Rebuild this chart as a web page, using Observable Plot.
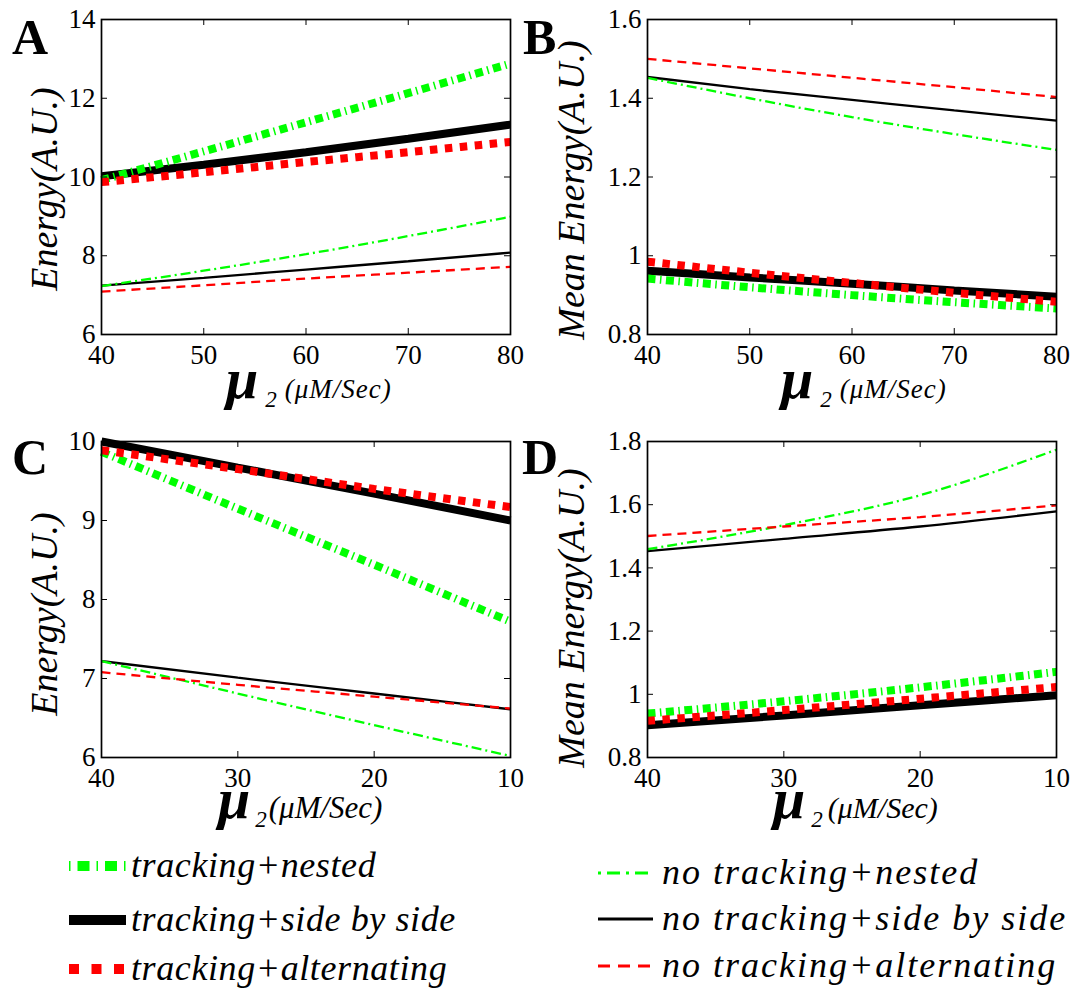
<!DOCTYPE html>
<html><head><meta charset="utf-8">
<script src="https://cdn.jsdelivr.net/npm/d3@7"></script>
<script src="https://cdn.jsdelivr.net/npm/@observablehq/plot@0.6"></script>
<style>
html,body{margin:0;padding:0;background:#fff;}
#root{position:relative;width:1086px;height:988px;overflow:hidden;font-family:'Liberation Serif';}
#root > svg.panel{position:absolute;}
#root svg text{font-family:'Liberation Serif' !important;}
#overlay{position:absolute;left:0;top:0;}
</style></head>
<body><div id="root"></div>
<script>
// ---------- data ----------
const seriesNames = ["tracking+nested","tracking+side by side","tracking+alternating",
                     "no tracking+nested","no tracking+side by side","no tracking+alternating"];
const muAB = [40,50,60,70,80];
const muCD = [40,30,20,10];
const xTicksAB = [40,50,60,70,80];
const xTicksCD = [40,30,20,10];
const yTicksA = [6,8,10,12,14];
const yTicksB = [0.8,1,1.2,1.4,1.6];
const yTicksC = [6,7,8,9,10];
const yTicksD = [0.8,1,1.2,1.4,1.6,1.8];
// Panel A: Energy vs mu2 (40..80)
const energyA_trkNested = [9.92,10.65,11.39,12.13,12.88];
const energyA_trkSide   = [10.02,10.31,10.63,10.97,11.33];
const energyA_trkAlt    = [9.87,10.12,10.38,10.63,10.89];
const energyA_noNested  = [7.23,7.62,8.04,8.50,8.99];
const energyA_noSide    = [7.24,7.44,7.65,7.86,8.08];
const energyA_noAlt     = [7.09,7.25,7.42,7.57,7.72];
// Panel B: Mean energy vs mu2 (40..80)
const meanB_trkNested = [0.942,0.920,0.900,0.882,0.866];
const meanB_trkSide   = [0.962,0.945,0.929,0.912,0.896];
const meanB_trkAlt    = [0.985,0.957,0.931,0.906,0.883];
const meanB_noNested  = [1.452,1.400,1.352,1.309,1.269];
const meanB_noSide    = [1.454,1.423,1.396,1.369,1.343];
const meanB_noAlt     = [1.500,1.476,1.452,1.428,1.403];
// Panel C: Energy vs mu2 (40..10)
const energyC_trkNested = [9.87,9.15,8.44,7.72];
const energyC_trkSide   = [10.0,9.67,9.34,9.0];
const energyC_trkAlt    = [9.89,9.65,9.40,9.17];
const energyC_noNested  = [7.22,6.81,6.41,6.02];
const energyC_noSide    = [7.22,7.01,6.81,6.61];
const energyC_noAlt     = [7.08,6.92,6.77,6.62];
// Panel D: Mean energy vs mu2 (40..10)
const meanD_trkNested = [0.939,0.978,1.022,1.071];
const meanD_trkSide   = [0.902,0.933,0.965,0.997];
const meanD_trkAlt    = [0.916,0.950,0.986,1.023];
const meanD_noNested  = [1.459,1.535,1.630,1.774];
const meanD_noSide    = [1.453,1.492,1.531,1.579];
const meanD_noAlt     = [1.501,1.531,1.561,1.598];

// ---------- styles ----------
const GREEN = "#00ff00", RED = "#ff0000", BLACK = "#000000";
const SERIF = "Liberation Serif";
const seriesStroke = [GREEN, BLACK, RED, GREEN, BLACK, RED];
const seriesWidth  = [8, 8, 8, 2.3, 2.3, 2.3];
const seriesDash   = ["8 4.5 1.5 4.5", null, "7.5 7.5", "10 4 2 4", null, "9 6"];
const drawOrder = [1, 0, 2, 4, 3, 5];

function rows(mu, arrays) {
  return seriesNames.flatMap((s, i) => mu.map((m, j) => ({series: s, mu: m, value: arrays[i][j]})));
}

function panel({data, xDomain, yDomain, xTicks, yTicks, left, top, width, height, mL, mR, mT, mB}) {
  const innerW = width - mL - mR, innerH = height - mT - mB;
  const marks = [];
  for (const i of drawOrder) {
    marks.push(Plot.line(data.filter(d => d.series === seriesNames[i]), {
      x: "mu", y: "value", stroke: seriesStroke[i], strokeWidth: seriesWidth[i],
      strokeDasharray: seriesDash[i] ?? undefined, strokeLinecap: "butt", strokeLinejoin: "miter",
      curve: "monotone-x"
    }));
  }
  marks.push(Plot.tickX(xTicks, {x: d => d, insetTop: innerH - 6, stroke: BLACK, strokeWidth: 1}));
  marks.push(Plot.tickX(xTicks, {x: d => d, insetBottom: innerH - 6, stroke: BLACK, strokeWidth: 1}));
  marks.push(Plot.tickY(yTicks, {y: d => d, insetRight: innerW - 6, stroke: BLACK, strokeWidth: 1}));
  marks.push(Plot.tickY(yTicks, {y: d => d, insetLeft: innerW - 6, stroke: BLACK, strokeWidth: 1}));
  marks.push(Plot.frame({stroke: BLACK, strokeWidth: 1.7}));
  marks.push(Plot.axisX({ticks: xTicks, tickSize: 0, tickPadding: 10, fontSize: 27, label: null, tickFormat: d => String(d)}));
  marks.push(Plot.axisY({ticks: yTicks, tickSize: 0, tickPadding: 6, fontSize: 27, label: null, tickFormat: d => String(d)}));
  const svg = Plot.plot({
    width, height, marginLeft: mL, marginRight: mR, marginTop: mT, marginBottom: mB,
    x: {domain: xDomain}, y: {domain: yDomain},
    style: {fontFamily: SERIF, background: "transparent", overflow: "visible", color: "black"},
    marks
  });
  svg.classList.add("panel");
  svg.style.left = left + "px";
  svg.style.top = top + "px";
  return svg;
}

const root = document.getElementById("root");
root.appendChild(panel({
  data: rows(muAB, [energyA_trkNested, energyA_trkSide, energyA_trkAlt, energyA_noNested, energyA_noSide, energyA_noAlt]),
  xDomain: [40, 80], yDomain: [6, 14], xTicks: xTicksAB, yTicks: yTicksA,
  left: 0, top: 0, width: 543, height: 400, mL: 101, mR: 33, mT: 19, mB: 66
}));
root.appendChild(panel({
  data: rows(muAB, [meanB_trkNested, meanB_trkSide, meanB_trkAlt, meanB_noNested, meanB_noSide, meanB_noAlt]),
  xDomain: [40, 80], yDomain: [0.8, 1.6], xTicks: xTicksAB, yTicks: yTicksB,
  left: 543, top: 0, width: 543, height: 400, mL: 104, mR: 30, mT: 19, mB: 66
}));
root.appendChild(panel({
  data: rows(muCD, [energyC_trkNested, energyC_trkSide, energyC_trkAlt, energyC_noNested, energyC_noSide, energyC_noAlt]),
  xDomain: [40, 10], yDomain: [6, 10], xTicks: xTicksCD, yTicks: yTicksC,
  left: 0, top: 400, width: 543, height: 430, mL: 101, mR: 33, mT: 41, mB: 73
}));
root.appendChild(panel({
  data: rows(muCD, [meanD_trkNested, meanD_trkSide, meanD_trkAlt, meanD_noNested, meanD_noSide, meanD_noAlt]),
  xDomain: [40, 10], yDomain: [0.8, 1.8], xTicks: xTicksCD, yTicks: yTicksD,
  left: 543, top: 400, width: 543, height: 430, mL: 104, mR: 30, mT: 41, mB: 73
}));

// ---------- overlay text & legend ----------
const ov = d3.select(root).append("svg").attr("id", "overlay").attr("width", 1086).attr("height", 988);

[["A", 12, 54], ["B", 523, 54], ["C", 12, 474], ["D", 522, 474]].forEach(([t, x, y]) =>
  ov.append("text").attr("x", x).attr("y", y).attr("font-size", 50).attr("font-weight", "bold").text(t));

[["Energy(A.U.)", 57, 189], ["Mean Energy(A.U.)", 584, 190], ["Energy(A.U.)", 57, 614], ["Mean Energy(A.U.)", 584, 618]]
  .forEach(([t, x, y]) => ov.append("text").attr("transform", `translate(${x},${y}) rotate(-90)`)
    .attr("text-anchor", "middle").attr("font-size", 38).attr("font-style", "italic").text(t));

function xLabel(x, y, subGap, unitSize, gap, spacing) {
  const g = ov.append("text").attr("x", x).attr("y", y);
  g.append("tspan").attr("font-size", 58).attr("font-weight", "bold").attr("font-style", "italic").text("μ");
  g.append("tspan").attr("font-size", 23).attr("font-style", "italic").attr("dx", subGap).attr("dy", 9).text("2");
  g.append("tspan").attr("font-size", unitSize).attr("font-style", "italic").attr("dx", gap).attr("dy", -9)
    .attr("letter-spacing", spacing).text("(μM/Sec)");
}
xLabel(226, 398, 7, 27, 8, 1);
xLabel(781, 398, 7, 27, 8, 1);
xLabel(218, 818, 5, 31, 2, 0);
xLabel(773, 818, 6, 30, 5, 0);

function swatch(x1, x2, y, color, width, dash) {
  const l = ov.append("line").attr("x1", x1).attr("x2", x2).attr("y1", y).attr("y2", y)
    .attr("stroke", color).attr("stroke-width", width);
  if (dash) l.attr("stroke-dasharray", dash);
}
const legLeftY = [866, 920, 969];
const legRightY = [873, 919, 966];
const legSwDash = ["1.5 7 12 7", null, "10 12.5", "3 6 13 6", null, "12 8"];
const legSwWidth = [10, 10, 10, 3, 3, 3];
seriesNames.forEach((s, i) => {
  const left = i < 3;
  const y = left ? legLeftY[i] : legRightY[i - 3];
  const x1 = left ? 69 : 598, x2 = left ? 126 : 653;
  swatch(x1, x2, y, seriesStroke[i], legSwWidth[i], legSwDash[i]);
  ov.append("text").attr("x", left ? 131 : 662).attr("y", y + 11)
    .attr("font-size", 36).attr("font-style", "italic")
    .attr("letter-spacing", left ? 0.6 : 2.0).text(s);
});
</script></body></html>
